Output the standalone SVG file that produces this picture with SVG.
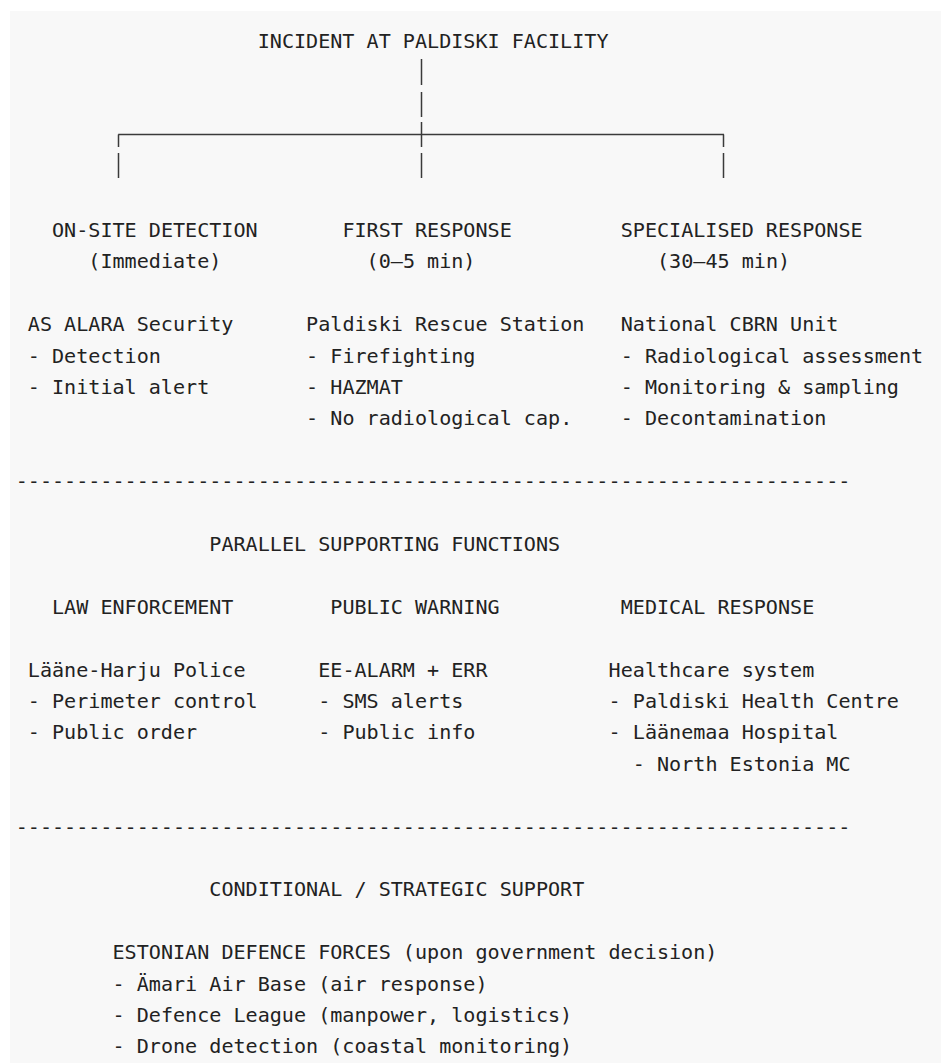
<svg xmlns="http://www.w3.org/2000/svg" width="941" height="1063" viewBox="0 0 941 1063">
  <style>
    .t { font-family: "DejaVu Sans Mono", "Liberation Mono", monospace; font-size: 20.1px; fill: #222222; }
    .c { stroke: #3a3a3a; stroke-width: 1.5; fill: none; }
  </style>
  <rect x="0" y="0" width="941" height="1063" fill="#ffffff"/>
  <rect x="10" y="11" width="931" height="1052" fill="#f8f8f8"/>

  <g id="incident">
    <text class="t" x="257.7" y="48.3">INCIDENT AT PALDISKI FACILITY</text>
  </g>

  <g id="connectors">
    <line class="c" x1="421.5" y1="59" x2="421.5" y2="85"/>
    <line class="c" x1="421.5" y1="92" x2="421.5" y2="117"/>
    <line class="c" x1="421.5" y1="122" x2="421.5" y2="147"/>
    <line class="c" x1="421.5" y1="153" x2="421.5" y2="178"/>
    <line class="c" x1="118.2" y1="134.5" x2="724" y2="134.5"/>
    <line class="c" x1="118.5" y1="134.5" x2="118.5" y2="147"/>
    <line class="c" x1="118.5" y1="153" x2="118.5" y2="178"/>
    <line class="c" x1="723.5" y1="134.5" x2="723.5" y2="147"/>
    <line class="c" x1="723.5" y1="153" x2="723.5" y2="178"/>
  </g>

  <g id="on-site-detection">
    <text class="t" x="52" y="236.8">ON-SITE DETECTION</text>
    <text class="t" x="88.3" y="268.2">(Immediate)</text>
    <text class="t" x="27.8" y="331.1">AS ALARA Security</text>
    <text class="t" x="27.8" y="362.5">- Detection</text>
    <text class="t" x="27.8" y="393.9">- Initial alert</text>
  </g>

  <g id="first-response">
    <text class="t" x="342.4" y="236.8">FIRST RESPONSE</text>
    <text class="t" x="366.6" y="268.2">(0–5 min)</text>
    <text class="t" x="306.1" y="331.1">Paldiski Rescue Station</text>
    <text class="t" x="306.1" y="362.5">- Firefighting</text>
    <text class="t" x="306.1" y="393.9">- HAZMAT</text>
    <text class="t" x="306.1" y="425.3">- No radiological cap.</text>
  </g>

  <g id="specialised-response">
    <text class="t" x="620.7" y="236.8">SPECIALISED RESPONSE</text>
    <text class="t" x="657" y="268.2">(30–45 min)</text>
    <text class="t" x="620.7" y="331.1">National CBRN Unit</text>
    <text class="t" x="620.7" y="362.5">- Radiological assessment</text>
    <text class="t" x="620.7" y="393.9">- Monitoring &amp; sampling</text>
    <text class="t" x="620.7" y="425.3">- Decontamination</text>
  </g>

  <g id="separator-1">
    <text class="t" x="15.7" y="488.1">---------------------------------------------------------------------</text>
  </g>

  <g id="parallel-supporting-functions">
    <text class="t" x="209.3" y="550.9">PARALLEL SUPPORTING FUNCTIONS</text>
  </g>

  <g id="law-enforcement">
    <text class="t" x="52" y="613.7">LAW ENFORCEMENT</text>
    <text class="t" x="27.8" y="676.5">Lääne-Harju Police</text>
    <text class="t" x="27.8" y="707.9">- Perimeter control</text>
    <text class="t" x="27.8" y="739.3">- Public order</text>
  </g>

  <g id="public-warning">
    <text class="t" x="330.3" y="613.7">PUBLIC WARNING</text>
    <text class="t" x="318.2" y="676.5">EE-ALARM + ERR</text>
    <text class="t" x="318.2" y="707.9">- SMS alerts</text>
    <text class="t" x="318.2" y="739.3">- Public info</text>
  </g>

  <g id="medical-response">
    <text class="t" x="620.7" y="613.7">MEDICAL RESPONSE</text>
    <text class="t" x="608.6" y="676.5">Healthcare system</text>
    <text class="t" x="608.6" y="707.9">- Paldiski Health Centre</text>
    <text class="t" x="608.6" y="739.3">- Läänemaa Hospital</text>
    <text class="t" x="632.8" y="770.7">- North Estonia MC</text>
  </g>

  <g id="separator-2">
    <text class="t" x="15.7" y="833.5">---------------------------------------------------------------------</text>
  </g>

  <g id="conditional-strategic-support">
    <text class="t" x="209.3" y="896.3">CONDITIONAL / STRATEGIC SUPPORT</text>
  </g>

  <g id="estonian-defence-forces">
    <text class="t" x="112.5" y="959.1">ESTONIAN DEFENCE FORCES (upon government decision)</text>
    <text class="t" x="112.5" y="990.5">- Ämari Air Base (air response)</text>
    <text class="t" x="112.5" y="1021.9">- Defence League (manpower, logistics)</text>
    <text class="t" x="112.5" y="1053.3">- Drone detection (coastal monitoring)</text>
  </g>
</svg>
